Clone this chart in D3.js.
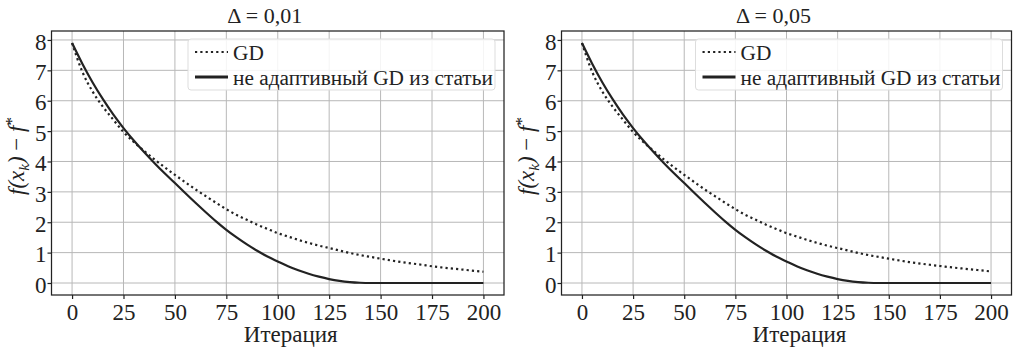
<!DOCTYPE html>
<meta charset="utf-8">
<title>GD vs non-adaptive GD</title>
<style>
  body { margin: 0; background: #fff; }
  svg { display: block; font-family: "Liberation Serif", "DejaVu Serif", serif; }
</style>
<svg id="chart" width="1018" height="351"></svg>
<script src="https://cdn.jsdelivr.net/npm/d3@7/dist/d3.min.js"></script>
<script>
var iters = [0, 5, 10, 15, 20, 25, 30, 35, 40, 45, 50, 55, 60, 65, 70, 75, 80, 85, 90, 95,
             100, 105, 110, 115, 120, 125, 130, 135, 140, 145, 150, 160, 170, 175, 180, 190, 200];

// Δ = 0,01
var gd_001    = [7.9, 6.95, 6.3, 5.8, 5.38, 4.97, 4.64, 4.35, 4.07, 3.81, 3.56, 3.32, 3.08, 2.86, 2.64, 2.43, 2.24, 2.08, 1.92, 1.78,
                 1.64, 1.53, 1.42, 1.32, 1.23, 1.15, 1.07, 0.99, 0.92, 0.86, 0.8, 0.69, 0.6, 0.55, 0.51, 0.44, 0.37];
var paper_001 = [7.9, 7.22, 6.6, 6.05, 5.55, 5.1, 4.69, 4.31, 3.95, 3.61, 3.29, 2.96, 2.64, 2.33, 2.03, 1.75, 1.5, 1.27, 1.06, 0.87,
                 0.71, 0.555, 0.42, 0.305, 0.21, 0.13, 0.07, 0.03, 0.008, 0, 0, 0, 0, 0, 0, 0, 0];

// Δ = 0,05
var gd_005    = [7.9, 6.95, 6.3, 5.8, 5.38, 4.97, 4.64, 4.35, 4.07, 3.81, 3.56, 3.32, 3.08, 2.86, 2.64, 2.43, 2.24, 2.08, 1.92, 1.78,
                 1.64, 1.53, 1.42, 1.32, 1.23, 1.15, 1.07, 0.99, 0.92, 0.86, 0.8, 0.69, 0.6, 0.56, 0.52, 0.45, 0.38];
var paper_005 = [7.9, 7.22, 6.6, 6.05, 5.55, 5.1, 4.69, 4.31, 3.95, 3.61, 3.29, 2.96, 2.64, 2.33, 2.03, 1.75, 1.5, 1.27, 1.06, 0.87,
                 0.71, 0.555, 0.42, 0.305, 0.21, 0.13, 0.07, 0.03, 0.008, 0, 0, 0, 0, 0, 0, 0, 0];

var xTicks = [0, 25, 50, 75, 100, 125, 150, 175, 200];
var yTicks = [0, 1, 2, 3, 4, 5, 6, 7, 8];
var titles = ["Δ = 0,01", "Δ = 0,05"];
var legendNames = ["GD", "не адаптивный GD из статьи"];

var ink = "#222";
var svg = d3.select("#chart");

var panels = [
  { title: titles[0], gd: gd_001, paper: paper_001, left: 51.5, right: 504 },
  { title: titles[1], gd: gd_005, paper: paper_005, left: 561.5, right: 1011.5 }
];

var plotTop = 31, plotBottom = 295;

panels.forEach(function(p) {
  var x = d3.scaleLinear().domain([-10, 210]).range([p.left, p.right]);
  var y = d3.scaleLinear().domain([-0.395, 8.295]).range([plotBottom, plotTop]);
  var g = svg.append("g");
  var cx = (p.left + p.right) / 2;

  // grid
  g.selectAll(".vgrid").data(xTicks).enter().append("line")
    .attr("x1", d => x(d)).attr("x2", d => x(d))
    .attr("y1", plotTop).attr("y2", plotBottom)
    .attr("stroke", "#b8b8b8").attr("stroke-width", 1);
  g.selectAll(".hgrid").data(yTicks).enter().append("line")
    .attr("x1", p.left).attr("x2", p.right)
    .attr("y1", d => y(d)).attr("y2", d => y(d))
    .attr("stroke", "#b8b8b8").attr("stroke-width", 1);

  // axes
  var xa = g.append("g").attr("transform", "translate(0," + plotBottom + ")")
    .call(d3.axisBottom(x).tickValues(xTicks).tickSize(4).tickPadding(5));
  var ya = g.append("g").attr("transform", "translate(" + p.left + ",0)")
    .call(d3.axisLeft(y).tickValues(yTicks).tickSize(4).tickPadding(1));
  [xa, ya].forEach(function(a) {
    a.select(".domain").remove();
    a.selectAll(".tick line").attr("stroke", ink).attr("stroke-width", 1.2);
    a.selectAll(".tick text").attr("fill", ink).style("font-size", "23px")
      .style("font-family", "'Liberation Serif', serif");
  });
  ya.selectAll(".tick text").attr("dy", "0.4em");
  xa.selectAll(".tick text").attr("dy", "0.7em");

  // curves
  var line = function(vals) {
    return d3.line().curve(d3.curveMonotoneX)
      .x((d, i) => x(iters[i])).y(d => y(d))(vals);
  };
  g.append("path").attr("d", line(p.gd))
    .attr("fill", "none").attr("stroke", ink).attr("stroke-width", 2.2)
    .attr("stroke-dasharray", "2.2,3.1");
  g.append("path").attr("d", line(p.paper))
    .attr("fill", "none").attr("stroke", ink).attr("stroke-width", 2.2);

  // frame
  g.append("rect").attr("x", p.left).attr("y", plotTop)
    .attr("width", p.right - p.left).attr("height", plotBottom - plotTop)
    .attr("fill", "none").attr("stroke", ink).attr("stroke-width", 1.25);

  // legend
  var lg = g.append("g").attr("transform", "translate(" + (p.right - 316) + ",39)");
  lg.append("rect").attr("width", 307).attr("height", 51).attr("rx", 3)
    .attr("fill", "#fff").attr("fill-opacity", 0.85)
    .attr("stroke", "#dddddd").attr("stroke-width", 1);
  legendNames.forEach(function(name, i) {
    var ly = 13 + i * 25;
    lg.append("line").attr("x1", 7).attr("x2", 40).attr("y1", ly).attr("y2", ly)
      .attr("stroke", ink).attr("stroke-width", i === 0 ? 2.2 : 2.8)
      .attr("stroke-dasharray", i === 0 ? "2.2,3.1" : null);
    lg.append("text").attr("x", 45).attr("y", ly + 8)
      .attr("fill", ink).style("font-size", "21.3px").text(name);
  });

  // title and labels
  g.append("text").attr("x", cx - 13).attr("y", 23)
    .attr("text-anchor", "middle").attr("fill", ink)
    .style("font-size", "22px").text(p.title);
  g.append("text").attr("x", cx + 13).attr("y", 342)
    .attr("text-anchor", "middle").attr("fill", ink)
    .style("font-size", "23px").text("Итерация");

  var yl = g.append("text")
    .attr("transform", "translate(" + (p.left - 28) + ",156) rotate(-90)")
    .attr("text-anchor", "middle").attr("fill", ink)
    .style("font-size", "23px").style("font-style", "italic");
  yl.append("tspan").text("f(x");
  yl.append("tspan").attr("dy", 5).style("font-size", "15px").text("k");
  yl.append("tspan").attr("dy", -5).text(")");
  yl.append("tspan").style("font-style", "normal").text(" − ");
  yl.append("tspan").text("f");
  yl.append("tspan").attr("dy", -7).style("font-size", "17px").style("font-style", "normal").text("*");
});
</script>
